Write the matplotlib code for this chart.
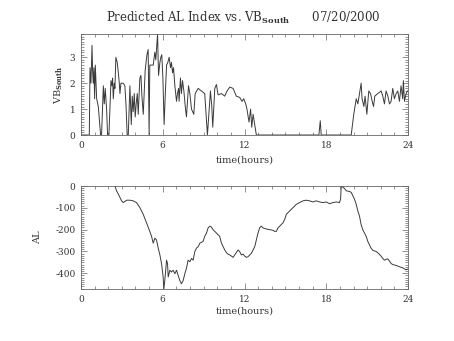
import matplotlib
matplotlib.use("Agg")
import matplotlib.pyplot as plt
from matplotlib.ticker import MultipleLocator, AutoMinorLocator

plt.rcParams['font.family'] = ['DejaVu Serif']
plt.rcParams['mathtext.fontset'] = 'dejavuserif'
plt.rcParams['axes.unicode_minus'] = False

# southward solar wind driver (hours UT, value)
vb_hours = [0, 0.61, 0.66, 0.73, 0.81, 0.85, 0.90, 0.95, 1.00, 1.05, 1.15, 1.27, 1.44, 1.51,
            1.64, 1.71, 1.78, 1.88, 1.95, 2.05, 2.20, 2.27, 2.32, 2.37, 2.44, 2.49, 2.56, 2.66,
            2.76, 2.81, 2.86, 2.93, 3.10, 3.22, 3.30, 3.39, 3.47, 3.59, 3.69, 3.76, 3.83, 3.91,
            3.98, 4.05, 4.13, 4.20, 4.32, 4.40, 4.47, 4.57, 4.71, 4.84, 4.93, 5.00, 5.05, 5.18,
            5.30, 5.42, 5.49, 5.57, 5.62, 5.69, 5.79, 5.86, 5.93, 6.01, 6.10, 6.18, 6.28, 6.37,
            6.47, 6.57, 6.64, 6.72, 6.79, 6.89, 7.01, 7.08, 7.16, 7.20, 7.30, 7.37, 7.45, 7.55,
            7.67, 7.74, 7.89, 7.99, 8.11, 8.28, 8.38, 8.60, 8.84, 9.08, 9.28, 9.50, 9.60, 9.67,
            9.82, 9.94, 10.06, 10.31, 10.55, 10.72, 10.92, 11.16, 11.40, 11.65, 11.82, 11.94,
            12.09, 12.18, 12.33, 12.45, 12.53, 12.63, 12.87, 17.46, 17.56, 17.63, 19.83, 20.02,
            20.20, 20.32, 20.44, 20.56, 20.63, 20.76, 20.85, 20.98, 21.12, 21.25, 21.37, 21.47,
            21.56, 21.78, 22.03, 22.15, 22.27, 22.39, 22.52, 22.64, 22.76, 22.88, 23.00, 23.13,
            23.25, 23.37, 23.49, 23.61, 23.66, 23.74, 23.86, 23.96]
vb_south = [0, 0, 2.6, 2.0, 3.46, 2.5, 2.0, 2.6, 1.4, 2.7, 1.4, 1.1, 0, 0,
            1.9, 1.2, 1.8, 1.0, 0, 0, 2.1, 1.9, 2.2, 1.4, 2.0, 1.8, 3.0, 2.8,
            2.3, 2.0, 1.6, 2.0, 2.0, 1.9, 1.2, 0, 0, 1.9, 0.4, 1.5, 0.9, 1.6,
            0.7, 1.2, 1.6, 0.8, 2.2, 2.3, 1.5, 0.8, 2.5, 3.1, 3.3, 0, 2.7, 2.7,
            2.7, 3.2, 2.9, 3.5, 3.9, 2.3, 2.8, 3.0, 3.1, 2.2, 0.4, 1.5, 2.7, 2.8,
            3.0, 2.6, 2.8, 2.4, 2.6, 1.9, 1.3, 1.6, 1.8, 1.3, 2.2, 1.6, 2.1, 1.7,
            1.0, 0.7, 1.9, 1.6, 1.0, 0.8, 1.6, 1.8, 1.7, 1.6, 0, 1.7, 1.1, 0.3,
            1.8, 1.95, 1.55, 1.6, 1.5, 1.7, 1.85, 1.8, 1.5, 1.45, 1.3, 1.4,
            1.2, 1.0, 0.5, 1.0, 0.3, 0.8, 0, 0, 0.55, 0, 0, 0.8,
            1.4, 1.2, 1.6, 2.0, 1.4, 1.1, 1.5, 0.8, 1.7, 1.6, 1.3, 1.1,
            1.5, 1.6, 1.7, 1.5, 1.2, 1.7, 1.5, 1.2, 1.3, 1.8, 1.4, 1.6,
            1.7, 1.3, 1.9, 1.4, 2.1, 1.3, 1.6, 1.7]

# predicted AL index (hours UT, nT)
al_hours = [2.49, 2.61, 2.74, 2.98, 3.10, 3.35, 3.59, 3.83, 4.08, 4.32, 4.57, 4.81, 5.05, 5.18,
            5.30, 5.42, 5.54, 5.67, 5.79, 5.91, 6.03, 6.08, 6.15, 6.28, 6.35, 6.40, 6.52, 6.64,
            6.76, 6.89, 7.01, 7.13, 7.25, 7.37, 7.50, 7.62, 7.74, 7.86, 7.99, 8.11, 8.23, 8.35,
            8.47, 8.60, 8.72, 8.96, 9.08, 9.21, 9.33, 9.45, 9.57, 9.69, 9.82, 9.94, 10.06, 10.18,
            10.31, 10.43, 10.55, 10.67, 10.79, 10.92, 11.04, 11.16, 11.28, 11.40, 11.53, 11.65,
            11.77, 11.89, 12.01, 12.14, 12.26, 12.38, 12.50, 12.63, 12.75, 12.87, 12.99, 13.11,
            13.23, 13.36, 13.60, 13.85, 14.09, 14.21, 14.33, 14.46, 14.58, 14.82, 14.95, 15.07,
            15.19, 15.43, 15.56, 15.80, 16.04, 16.29, 16.53, 16.78, 17.02, 17.26, 17.51, 17.75,
            18.00, 18.24, 18.49, 18.73, 18.97, 19.05, 19.10, 19.22, 19.34, 19.47, 19.71, 19.83,
            19.95, 20.07, 20.20, 20.32, 20.44, 20.56, 20.68, 20.81, 20.93, 21.05, 21.17, 21.29,
            21.42, 21.66, 21.78, 21.90, 22.03, 22.15, 22.27, 22.39, 22.52, 22.64, 22.76, 22.88,
            23.13, 23.37, 23.61, 23.74, 23.86, 23.96]
al_index = [0, -22, -37, -68, -76, -65, -65, -68, -76, -99, -130, -169, -208, -231,
            -262, -239, -247, -285, -316, -355, -417, -472, -433, -340, -355, -417, -386, -394,
            -386, -402, -386, -409, -433, -448, -433, -402, -378, -340, -347, -332, -340, -301,
            -285, -278, -262, -254, -231, -216, -192, -184, -188, -200, -208, -216, -223, -231,
            -262, -278, -293, -305, -312, -316, -321, -327, -316, -305, -293, -301,
            -316, -312, -321, -327, -324, -316, -309, -293, -278, -247, -216, -192,
            -184, -192, -197, -200, -203, -208, -208, -192, -184, -169, -153, -130,
            -122, -107, -99, -84, -76, -68, -65, -68, -73, -68, -73, -76,
            -73, -81, -76, -73, -76, -60, 0, -6, -11, -22, -25, -29,
            -45, -60, -84, -115, -138, -177, -200, -216, -231, -254, -270, -285,
            -295, -300, -306, -313, -322, -332, -340, -336, -334, -344, -355, -360,
            -364, -370, -375, -380, -384, -381]

hour_ticks = [0, 6, 12, 18, 24]

fig = plt.figure(figsize=(4.54, 3.41), dpi=100)
ax1 = fig.add_axes([0.1784, 0.6041, 0.7203, 0.2962])
ax2 = fig.add_axes([0.1784, 0.1525, 0.7203, 0.3020])

line_kw = dict(color='#3a3a3a', lw=0.7)
ax1.plot(vb_hours, vb_south, **line_kw)
ax2.plot(al_hours, al_index, **line_kw)

ax1.set_ylim(0, max(vb_south))
ax1.set_yticks([0, 1, 2, 3])
ax2.set_ylim(min(al_index), 0)
ax2.set_yticks([0, -100, -200, -300, -400])

for ax in (ax1, ax2):
    ax.set_xlim(0, 24)
    ax.set_xticks(hour_ticks)
    ax.xaxis.set_minor_locator(MultipleLocator(1))
    ax.yaxis.set_minor_locator(AutoMinorLocator(10))
    ax.tick_params(which='both', direction='in', top=True, right=True,
                   color='#666666', width=0.5, labelsize=6.5, pad=4,
                   labelcolor='#333333')
    ax.tick_params(which='major', length=4)
    ax.tick_params(which='minor', length=2)
    for sp in ax.spines.values():
        sp.set_linewidth(0.6)
        sp.set_color('#666666')
    ax.set_xlabel('time(hours)', fontsize=7, color='#333333')

ax1.xaxis.set_label_coords(0.5, -0.20)
ax2.xaxis.set_label_coords(0.5, -0.17)
ax1.set_ylabel(r'VB$_{\mathbf{South}}$', fontsize=7, color='#333333')
ax1.yaxis.set_label_coords(-0.05, 0.5)
ax2.set_ylabel('AL', fontsize=7, color='#333333')
ax2.yaxis.set_label_coords(-0.12, 0.5)

fig.text(0.535, 1 - 22 / 341, r'Predicted AL Index vs. VB$_{\mathbf{South}}$      07/20/2000',
         ha='center', va='baseline', fontsize=8.5, color='#333333')

fig.savefig('out.png', dpi=100)
